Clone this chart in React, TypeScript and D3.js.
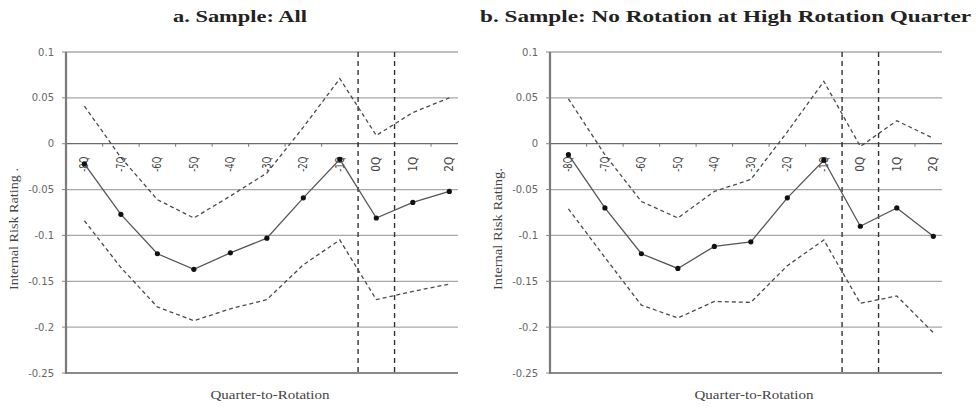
import * as d3 from "d3";
import React from "react";

// quarter relative to rotation
const quarters = ["-8Q", "-7Q", "-6Q", "-5Q", "-4Q", "-3Q", "-2Q", "-1Q", "0Q", "1Q", "2Q"];
const yTicks = [0.1, 0.05, 0, -0.05, -0.1, -0.15, -0.2, -0.25];

// a. Sample: All
const allEstimate = [-0.022, -0.077, -0.12, -0.137, -0.119, -0.103, -0.059, -0.017, -0.081, -0.064, -0.052];
const allUpper = [0.041, -0.015, -0.061, -0.081, -0.057, -0.032, 0.018, 0.071, 0.009, 0.034, 0.05];
const allLower = [-0.084, -0.135, -0.178, -0.193, -0.18, -0.17, -0.132, -0.105, -0.17, -0.161, -0.153];

// b. Sample: No Rotation at High Rotation Quarter
const noRotEstimate = [-0.012, -0.07, -0.12, -0.136, -0.112, -0.107, -0.059, -0.018, -0.09, -0.07, -0.101];
const noRotUpper = [0.049, -0.012, -0.063, -0.081, -0.052, -0.039, 0.013, 0.068, -0.003, 0.025, 0.006];
const noRotLower = [-0.071, -0.124, -0.176, -0.19, -0.172, -0.173, -0.133, -0.105, -0.174, -0.166, -0.206];

// rotation window: between -1Q/0Q and 0Q/1Q
const windowEdges = [["-1Q", "0Q"], ["0Q", "1Q"]];

const W = 976, H = 408;
const plotW = 392, top = 52, bottom = 373;
const sans = "'DejaVu Sans', Verdana, sans-serif";
const serif = "'Liberation Serif', 'Times New Roman', serif";

function Panel({x0, title, titleX, titleLen, yLabel, est, upper, lower}) {
    const x = d3.scalePoint().domain(quarters).range([18.4, plotW - 8.7]);
    const step = x.step();
    const y = d3.scaleLinear().domain([-0.25, 0.1]).range([bottom, top]);
    const line = d3.line().x((d, i) => x(quarters[i])).y(d => y(d));

    return (
        <g>
            <text x={titleX} y={22} textAnchor="middle" fontFamily={serif} fontWeight="bold"
                  fontSize={16.5} textLength={titleLen} lengthAdjust="spacingAndGlyphs" fill="#222">{title}</text>
            <g transform={`translate(${x0},0)`}>
                {/* grid */}
                {yTicks.map(t => (
                    <g key={t}>
                        <line x1={0} x2={plotW} y1={y(t)} y2={y(t)}
                              stroke={t === 0 ? "#6a6a6a" : t === -0.25 ? "#8a8a8a" : t === 0.1 ? "#808080" : "#a8a8a8"}
                              strokeWidth={t === -0.25 ? 2 : 1.2}/>
                        <line x1={-4} x2={0} y1={y(t)} y2={y(t)} stroke="#888" strokeWidth={1}/>
                        <text x={-12} y={y(t)} dy="0.35em" textAnchor="end" fontFamily={sans} fontSize={10}
                              fill="#666">{String(t)}</text>
                    </g>
                ))}
                <line x1={0} x2={0} y1={top} y2={bottom + 1} stroke="#7a7a7a" strokeWidth={2.2}/>
                {/* category ticks on the zero line */}
                {quarters.slice(0, -1).map(q => (
                    <line key={q} x1={x(q) + step / 2} x2={x(q) + step / 2} y1={y(0)} y2={y(0) + 3}
                          stroke="#777" strokeWidth={1}/>
                ))}
                {quarters.map(q => (
                    <text key={q} transform={`translate(${x(q)},${y(0) + 13}) rotate(-90)`} textAnchor="end"
                          dy="0.35em" fontFamily={sans} fontSize={11.5} textLength={15} lengthAdjust="spacingAndGlyphs"
                          fill="#444">{q}</text>
                ))}
                {/* rotation window */}
                {windowEdges.map(([a, b]) => {
                    const xv = (x(a) + x(b)) / 2;
                    return <line key={a} x1={xv} x2={xv} y1={top} y2={bottom} stroke="#333"
                                 strokeWidth={1.4} strokeDasharray="5,4"/>;
                })}
                <path d={line(upper)} fill="none" stroke="#4a4a4a" strokeWidth={1.3} strokeDasharray="4,3"/>
                <path d={line(lower)} fill="none" stroke="#4a4a4a" strokeWidth={1.3} strokeDasharray="4,3"/>
                <path d={line(est)} fill="none" stroke="#555" strokeWidth={1.3}/>
                {est.map((v, i) => (
                    <circle key={i} cx={x(quarters[i])} cy={y(v)} r={2.6} fill="#111"/>
                ))}
                <text x={(plotW) / 2 + 8} y={399} textAnchor="middle" fontFamily={serif} fontSize={12.5}
                      textLength={119} lengthAdjust="spacingAndGlyphs" fill="#444">Quarter-to-Rotation</text>
                <text transform={`translate(${-53},${229}) rotate(-90)`} textAnchor="middle" dy="0.35em"
                      fontFamily={serif} fontSize={13} textLength={122} lengthAdjust="spacingAndGlyphs"
                      fill="#444">{yLabel}</text>
            </g>
        </g>
    );
}

export default function App() {
    return (
        <svg width={W} height={H} style={{position: "absolute", left: 0, top: 0, background: "#fff"}}>
            <rect width={W} height={H} fill="#fff"/>
            <Panel x0={66} title="a. Sample: All" titleX={240} titleLen={134} yLabel="Internal Risk Rating ."
                   est={allEstimate} upper={allUpper} lower={allLower}/>
            <Panel x0={550} title="b. Sample: No Rotation at High Rotation Quarter" titleX={725.5} titleLen={491}
                   yLabel="Internal Risk Rating." est={noRotEstimate} upper={noRotUpper} lower={noRotLower}/>
        </svg>
    );
}
